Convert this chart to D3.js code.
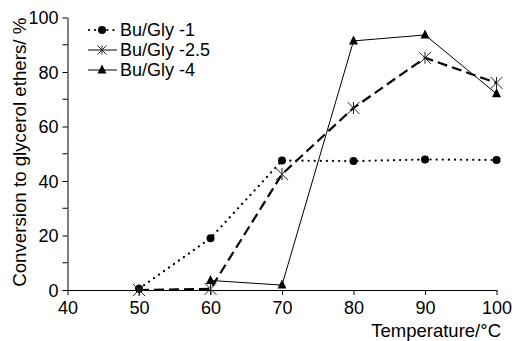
<!DOCTYPE html>
<html>
<head>
<meta charset="utf-8">
<script src="https://cdn.jsdelivr.net/npm/d3@7"></script>
<style>
  html, body { margin: 0; padding: 0; background: #fff; }
  svg { display: block; font-family: "Liberation Sans", Arial, sans-serif; }
</style>
</head>
<body>
<svg id="chart" width="512" height="341"></svg>
<script>
const temperatures = [50, 60, 70, 80, 90, 100];
const seriesNames = ["Bu/Gly -1", "Bu/Gly -2.5", "Bu/Gly -4"];
const ratio1 = [0.5, 19, 47.5, 47.3, 47.9, 47.7];
const ratio25 = [0, 0.4, 42.5, 66.8, 85.2, 76];
const ratio4 = [null, 3.5, 1.8, 91.4, 93.6, 72];
const xTicks = [40, 50, 60, 70, 80, 90, 100];
const yTicks = [0, 20, 40, 60, 80, 100];
const yMinorTicks = [10, 30, 50, 70, 90];

const svg = d3.select("#chart");
const x = d3.scaleLinear().domain([40, 100]).range([67.5, 496.5]);
const y = d3.scaleLinear().domain([0, 100]).range([290, 17.5]);

// axes
const xAxis = svg.append("g").attr("transform", `translate(0,${y(0)})`)
  .call(d3.axisBottom(x).tickValues(xTicks).tickSize(5).tickPadding(6).tickSizeOuter(0));
const yAxis = svg.append("g").attr("transform", `translate(${x(40)},0)`)
  .call(d3.axisLeft(y).tickValues(yTicks).tickSize(5).tickPadding(4).tickSizeOuter(0));
yAxis.selectAll(".minor").data(yMinorTicks).enter().append("line")
  .attr("x1", -5).attr("x2", 0).attr("y1", d => y(d)).attr("y2", d => y(d))
  .attr("stroke", "#000");
[xAxis, yAxis].forEach(g => {
  g.select(".domain").attr("stroke", "#000").attr("stroke-width", 1);
  g.selectAll(".tick line").attr("stroke", "#000");
  g.selectAll("text").attr("font-size", 18).attr("font-family", '"Liberation Sans", Arial, sans-serif').attr("fill", "#000");
});
yAxis.selectAll(".tick text").attr("dy", "0.35em");

// titles
svg.append("text").attr("x", 501).attr("y", 337).attr("text-anchor", "end")
  .attr("font-size", 18.5).text("Temperature/°C");
svg.append("text").attr("transform", `translate(26,${(17.5 + 287) / 2}) rotate(-90)`)
  .attr("text-anchor", "middle").attr("font-size", 18.7).text("Conversion to glycerol ethers/ %");

// series
const pts = arr => temperatures.map((t, i) => ({t, v: arr[i]})).filter(d => d.v !== null);
const line = d3.line().x(d => x(d.t)).y(d => y(d.v));

const styles = [
  {data: ratio1, dash: "0.1 6", width: 2.2, cap: "round", marker: "circle"},
  {data: ratio25, dash: "10 5", width: 2.2, cap: "butt", marker: "star"},
  {data: ratio4, dash: null, width: 1, cap: "butt", marker: "triangle"}
];

function drawMarker(g, type, cx, cy, s) {
  if (type === "circle") {
    g.append("circle").attr("cx", cx).attr("cy", cy).attr("r", 4).attr("fill", "#000");
  } else if (type === "triangle") {
    g.append("path").attr("d", `M${cx},${cy - 5.5}L${cx + 4.5},${cy + 3.5}L${cx - 4.5},${cy + 3.5}Z`).attr("fill", "#000");
  } else {
    g.append("path")
      .attr("d", `M${cx},${cy - s}L${cx},${cy + s}M${cx - s},${cy - s}L${cx + s},${cy + s}M${cx - s},${cy + s}L${cx + s},${cy - s}`)
      .attr("stroke", "#222").attr("stroke-width", 1).attr("fill", "none");
  }
}

styles.forEach(s => {
  const p = svg.append("path").datum(pts(s.data)).attr("d", line)
    .attr("fill", "none").attr("stroke", "#000").attr("stroke-width", s.width)
    .attr("stroke-linecap", s.cap);
  if (s.dash) p.attr("stroke-dasharray", s.dash);
});
styles.forEach(s => {
  const g = svg.append("g");
  pts(s.data).forEach(d => drawMarker(g, s.marker, x(d.t), y(d.v), 6));
});

// legend
const legendY = [30, 50, 70];
styles.forEach((s, i) => {
  const g = svg.append("g");
  const ly = legendY[i];
  const ln = g.append("line").attr("x1", 88).attr("x2", 117).attr("y1", ly).attr("y2", ly)
    .attr("stroke", "#000").attr("stroke-width", s.marker === "circle" ? 2.2 : 1)
    .attr("stroke-linecap", s.cap);
  if (s.marker === "circle") ln.attr("stroke-dasharray", "0.1 6").attr("x1", 89);
  drawMarker(g, s.marker, 102, ly, 4.5);
  g.append("text").attr("x", 120).attr("y", ly).attr("dy", "0.35em")
    .attr("font-size", 18).text(seriesNames[i]);
});
</script>
</body>
</html>
